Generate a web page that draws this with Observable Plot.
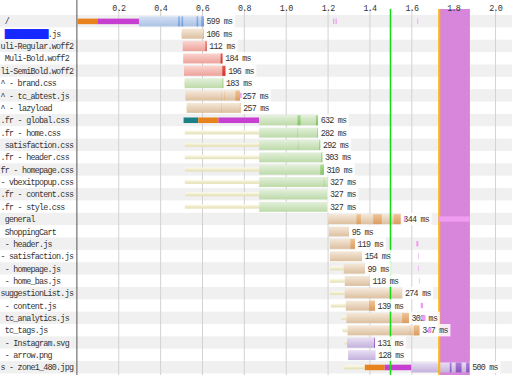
<!DOCTYPE html>
<html><head><meta charset="utf-8">
<script src="https://cdn.jsdelivr.net/npm/d3@7"></script>
<script src="https://cdn.jsdelivr.net/npm/@observablehq/plot@0.6"></script>
<style>
body{margin:0;background:#fff;}
#chart svg{display:block}
#chart text{white-space:pre;letter-spacing:-0.75px}
</style>
</head><body><div id="chart"></div>
<script>
// ---- data (ms) ----
const labels = [" /"," \u2588\u2588\u2588\u2588\u2588\u2588\u2588\u2588\u2588\u2588.js","uli-Regular.woff2"," Muli-Bold.woff2","li-SemiBold.woff2","^ - brand.css","^ - tc_abtest.js","^ - lazyload",".fr - global.css",".fr - home.css"," satisfaction.css",".fr - header.css","fr - homepage.css","- vbexitpopup.css",".fr - content.css",".fr - style.css"," general"," ShoppingCart"," - header.js","- satisfaction.js"," - homepage.js"," - home_bas.js","suggestionList.js"," - content.js"," tc_analytics.js"," tc_tags.js"," - Instagram.svg"," - arrow.png","s - zone1_480.jpg",""];
const types = ["html","js","font","font","font","css","js","js","css","css","css","css","css","css","css","css","js","js","js","js","js","js","js","js","js","js","image","image","image","js"];
const waitStart = [null,499,null,null,null,513,519,524,null,518,518,518,518,518,523,518,null,null,null,null,1211,1211,1211,1215,1266,1271,1282,null,1277,null];
const reqStart = [299,503,508,510,514,517,521,527,873,873,873,873,873,873,873,873,1203,1206,1211,1211,1277,1282,1282,1287,1290,1295,1293,1298,1601,1601];
const reqEnd = [610,609,623,699,713,703,782,785,1155,1155,1166,1176,1183,1200,1200,1200,1550,1303,1331,1365,1379,1403,1558,1427,1589,1640,1427,1430,1879,1716];
const durations = [599,106,112,184,196,183,257,257,632,282,292,303,310,327,327,327,344,95,119,154,99,118,274,139,302,347,131,128,500,null];
const darkChunks = [
  [0,486,494],[0,502,510],[0,574,582],[0,596,610],
  [1,605,609],[2,617,623],[3,689,699],[4,697,713],[5,698,703],
  [6,692,694],[6,708,710],[6,760,782],[7,692,694],[7,781,785],
  [8,1056,1071],[8,1144,1155],[9,1056,1058],[9,1151,1155],
  [10,1058,1060],[10,1160,1166],[11,1170,1176],[12,1165,1183],
  [13,1182,1184],[13,1197,1200],
  [16,1338,1359],[16,1418,1459],[16,1516,1550],
  [18,1309,1331],[23,1398,1427],[24,1556,1589],
  [25,1593,1595],[25,1612,1640],[26,1422,1427],
  [28,1784,1792],[28,1812,1840],[28,1862,1879]
];
const connRow = [0, 8, 28];
const dnsSpan = [null, [512, 582], null];
const connectSpan = [[6, 103], [582, 679], [1378, 1473]];
const sslSpan = [[103, 299], [679, 873], [1473, 1601]];
const jsMarks = [[0,1629,1633],[0,1226,1232],[0,1238,1244],[6,782,790],[16,1566,1574],[16,1730,1879],[18,1624,1634],[19,1632,1635],[20,1634,1637],[21,1636,1639],[23,1645,1656],[24,1648,1668],[25,1680,1696]];
const tickValues = [200,400,600,800,1000,1200,1400,1600,1800,2000];
const startRender = 1498;
const domInteractive = 1731;
const dclSpan = [1731, 1880];

// ---- layout/style ----
const W = 512, H = 375;
const xMax = 2081, xLeft = 76.4;
const pxPerMs = (W - xLeft) / xMax;
const rowH = 12.36, rowTop = 15;
const nRows = labels.length;
const charW = 4.29;
const grad = {
  htmlL:["#d4e1f4","#aac2e5"], htmlD:["#8fb4e6","#6f9bd8"],
  jsL:["#f5e8d9","#dcc0a0"], jsD:["#f0c496","#dc9c60"],
  fontL:["#fbd4cf","#eca29a"], fontD:["#e85a4e","#c8372c"],
  cssL:["#e3f0db","#bddaa9"], cssD:["#a8dd8c","#84c468"],
  imageL:["#e8dff3","#c4b1dd"], imageD:["#b07cd8","#8b54bd"],
  wait:["#fcfbec","#e2deb0"]
};

const rows = d3.range(nRows);
const waitSegs = rows.filter(i => waitStart[i] != null).map(i => {
  const ci = connRow.indexOf(i);
  const end = ci >= 0 ? (dnsSpan[ci] ? dnsSpan[ci][0] : connectSpan[ci][0]) : reqStart[i];
  return {i, x1: waitStart[i], x2: end};
});
const connSegs = [];
connRow.forEach((r, k) => {
  if (dnsSpan[k]) connSegs.push({i: r, x1: dnsSpan[k][0], x2: dnsSpan[k][1], fill: "#1e8087"});
  connSegs.push({i: r, x1: connectSpan[k][0], x2: connectSpan[k][1], fill: "#e8821c"});
  connSegs.push({i: r, x1: sslSpan[k][0], x2: sslSpan[k][1], fill: "#c63fd0"});
});
const lightSegs = rows.map(i => ({i, x1: reqStart[i], x2: reqEnd[i], fill: `url(#${types[i]}L)`}));
const darkSegs = darkChunks.map(([i, a, b]) => ({i, x1: a, x2: b, fill: `url(#${types[i]}D)`}));
const valueRows = rows.filter(i => durations[i] != null).map(i => {
  const t = durations[i] + " ms";
  return {i, end: reqEnd[i], t, boxEnd: reqEnd[i] + (t.length * charW + 5) / pxPerMs};
});
const jsRects = jsMarks.map(([i, a, b]) => ({i, x1: a, x2: b}));
const font = {fontFamily: "Liberation Mono", fontSize: 8.4};

const svg = Plot.plot({
  width: W, height: H,
  marginTop: 0, marginBottom: 0, marginLeft: 0, marginRight: 0,
  x: {domain: [0, xMax], range: [xLeft, W], axis: null},
  y: {type: "band", domain: rows, range: [rowTop, rowTop + nRows * rowH], padding: 0, round: false, axis: null},
  color: {type: "identity"},
  style: {background: "white"},
  marks: [
    Plot.cell(rows.filter(i => i % 2 === 0), {y: d => d, fill: "#f0f0f0"}),
    Plot.ruleX(tickValues, {x: d => d, stroke: "#d2d2d2", insetTop: 9}),
    Plot.rect([dclSpan], {x1: d => d[0], x2: d => d[1], fill: "#d886dc", insetTop: 9}),
    Plot.barX(waitSegs, {x1: "x1", x2: "x2", y: "i", fill: "url(#wait)", insetTop: 4.2, insetBottom: 4.2}),
    Plot.barX(connSegs, {x1: "x1", x2: "x2", y: "i", fill: "fill", insetTop: 3.6, insetBottom: 3.2}),
    Plot.barX(lightSegs, {x1: "x1", x2: "x2", y: "i", fill: "fill", insetTop: 1.4, insetBottom: 1}),
    Plot.barX(darkSegs, {x1: "x1", x2: "x2", y: "i", fill: "fill", insetTop: 1.4, insetBottom: 1}),
    Plot.ruleX([startRender], {x: d => d, stroke: "#14dc14", strokeWidth: 1.5, insetTop: 9}),
    Plot.ruleX([domInteractive], {x: d => d, stroke: "#ffb800", strokeWidth: 2, insetTop: 9}),
    Plot.barX(valueRows, {x1: "end", x2: "boxEnd", y: "i", fill: "white", fillOpacity: 0.85}),
    Plot.text(valueRows, {x: "end", y: "i", text: "t", textAnchor: "start", dx: 2, fill: "#333", ...font}),
    Plot.barX(jsRects, {x1: "x1", x2: "x2", y: "i", fill: "#f09cf0", insetTop: 3.6, insetBottom: 3.4}),
    Plot.text(rows, {y: d => d, text: d => labels[d], frameAnchor: "left", textAnchor: "start", fill: "#333", ...font}),
    Plot.ruleX([0], {x: d => d, stroke: "#555"}),
    Plot.text(tickValues, {x: d => d, text: d => (d / 1000).toFixed(1), frameAnchor: "top", dy: 4.5, fill: "#333", ...font})
  ]
});

const defs = d3.select(svg).insert("defs", ":first-child");
for (const [id, [c1, c2]] of Object.entries(grad)) {
  const lg = defs.append("linearGradient").attr("id", id).attr("x1", 0).attr("x2", 0).attr("y1", 0).attr("y2", 1);
  lg.append("stop").attr("offset", "0%").attr("stop-color", c1);
  lg.append("stop").attr("offset", "100%").attr("stop-color", c2);
}
// colour the redacted part of a label blue
d3.select(svg).selectAll("text").each(function() {
  const m = this.textContent.match(/^(\s*)(\u2588+)(.*)$/);
  if (!m) return;
  const sel = d3.select(this).text(null);
  sel.append("tspan").text(m[1]);
  sel.append("tspan").attr("fill", "#1428ff").attr("font-family", "DejaVu Sans Mono").text(m[2]);
  sel.append("tspan").text(m[3]);
});
document.getElementById("chart").appendChild(svg);
</script>
</body></html>
